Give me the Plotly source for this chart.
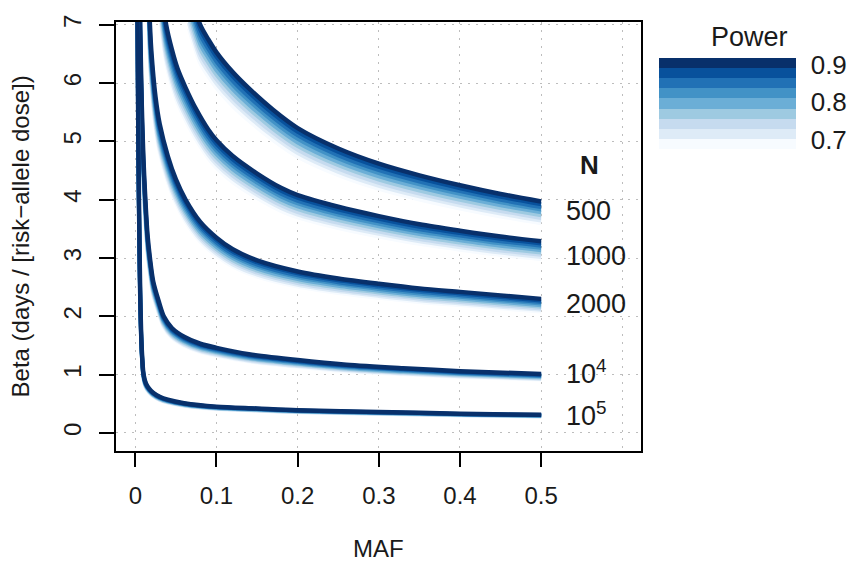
import plotly.graph_objects as go

# ---------------- data ----------------
# darkest curve (highest power) for each sample size N: MAF -> Beta
maf_500 = [0.066, 0.080, 0.09, 0.10, 0.12, 0.14, 0.17, 0.20, 0.25, 0.30, 0.35, 0.40, 0.45, 0.50]
beta_500 = [7.66, 7.00, 6.75, 6.53, 6.19, 5.91, 5.54, 5.23, 4.88, 4.62, 4.42, 4.25, 4.10, 3.97]

maf_1000 = [0.032, 0.038, 0.045, 0.052, 0.062, 0.075, 0.09, 0.10, 0.12, 0.15, 0.18, 0.20, 0.25, 0.30, 0.35, 0.40, 0.45, 0.50]
beta_1000 = [7.66, 7.00, 6.58, 6.25, 5.92, 5.55, 5.20, 5.02, 4.75, 4.45, 4.20, 4.08, 3.88, 3.72, 3.58, 3.47, 3.37, 3.29]

maf_2000 = [0.0166, 0.018, 0.02, 0.025, 0.03, 0.04, 0.05, 0.062, 0.08, 0.10, 0.12, 0.15, 0.20, 0.25, 0.30, 0.35, 0.40, 0.45, 0.50]
beta_2000 = [7.66, 7.00, 6.50, 5.75, 5.30, 4.75, 4.35, 4.00, 3.62, 3.35, 3.15, 2.96, 2.77, 2.65, 2.56, 2.48, 2.42, 2.36, 2.30]

maf_1e4 = [0.0055, 0.006, 0.008, 0.010, 0.012, 0.015, 0.018, 0.022, 0.029, 0.035, 0.045, 0.06, 0.08, 0.10, 0.14, 0.20, 0.26, 0.33, 0.40, 0.50]
beta_1e4 = [7.66, 7.00, 5.60, 4.70, 4.10, 3.40, 3.00, 2.60, 2.25, 2.00, 1.80, 1.65, 1.53, 1.46, 1.35, 1.25, 1.17, 1.11, 1.06, 1.01]

maf_1e5 = [0.0023, 0.0028, 0.0035, 0.0041, 0.005, 0.006, 0.007, 0.008, 0.010, 0.013, 0.017, 0.022, 0.03, 0.04, 0.06, 0.10, 0.15, 0.20, 0.30, 0.40, 0.50]
beta_1e5 = [7.66, 7.00, 5.50, 4.50, 3.40, 2.40, 1.80, 1.42, 1.02, 0.85, 0.76, 0.69, 0.62, 0.57, 0.51, 0.45, 0.42, 0.39, 0.36, 0.33, 0.31]

# relative height of each power curve vs the highest-power curve (lightest -> darkest)
power_scale = [0.906, 0.918, 0.929, 0.941, 0.953, 0.965, 0.976, 0.988, 1.000]

n_labels = ["500", "1000", "2000", "10<sup>4</sup>", "10<sup>5</sup>"]
x_ticks = [0, 0.1, 0.2, 0.3, 0.4, 0.5]
x_ticktext = ["0", "0.1", "0.2", "0.3", "0.4", "0.5"]
y_ticks = [0, 1, 2, 3, 4, 5, 6, 7]
legend_ticks = [0.7, 0.8, 0.9]

# ---------------- styles / layout ----------------
blues = ["#F7FBFF", "#DEEBF7", "#C6DBEF", "#9ECAE1", "#6BAED6",
         "#4292C6", "#2171B5", "#08519C", "#08306B"]
line_widths = [4, 4, 4, 4, 4, 4, 4, 4, 4.5]
FONT = "Liberation Sans, Arial, Helvetica, sans-serif"
TXT = "#1a1a1a"
GRID = "#bdbdbd"
GRID_DASH = "2px,6px"
label_y = [3.81, 3.03, 2.22, 1.05, 0.33]

curves = [(maf_500, beta_500), (maf_1000, beta_1000), (maf_2000, beta_2000),
          (maf_1e4, beta_1e4), (maf_1e5, beta_1e5)]

fig = go.Figure()
for maf, beta in curves:
    for k, s in enumerate(power_scale):
        fig.add_trace(go.Scatter(
            x=maf, y=[b * s for b in beta], mode="lines",
            line=dict(color=blues[k], width=line_widths[k], shape="spline", smoothing=0.8),
            showlegend=False, hoverinfo="skip"))

# colour key (Power)
cmin, cmax = 0.674, 0.919
cs = []
for k, c in enumerate(blues):
    cs.append([k / 9, c])
    cs.append([(k + 1) / 9, c])
fig.add_trace(go.Scatter(
    x=[None], y=[None], mode="markers", showlegend=False, hoverinfo="skip",
    marker=dict(color=[0.8], colorscale=cs, cmin=cmin, cmax=cmax, showscale=True,
                colorbar=dict(xref="container", yref="container",
                              x=659 / 848, xanchor="left",
                              y=1 - 76 / 561, yanchor="top",
                              len=91, lenmode="pixels",
                              thickness=137, thicknessmode="pixels",
                              outlinewidth=0, xpad=0, ypad=0,
                              tickvals=legend_ticks,
                              ticktext=[str(v) for v in legend_ticks],
                              ticks="outside", ticklen=10, tickcolor="rgba(0,0,0,0)",
                              tickfont=dict(size=26, color=TXT, family=FONT)))))

annotations = []
annotations.append(dict(x=0.559, y=4.6, xref="x", yref="y", text="<b>N</b>",
                        showarrow=False, xanchor="center", yanchor="middle",
                        font=dict(size=26, color=TXT, family=FONT)))
for t, yv in zip(n_labels, label_y):
    annotations.append(dict(x=0.528, y=yv, xref="x", yref="y", text=t,
                            showarrow=False, xanchor="left", yanchor="middle",
                            font=dict(size=27, color=TXT, family=FONT)))
annotations.append(dict(x=0.5, y=-0.228, xref="paper", yref="paper", text="MAF",
                        showarrow=False, xanchor="center", yanchor="middle",
                        font=dict(size=24, color=TXT, family=FONT)))
annotations.append(dict(x=-0.181, y=0.5, xref="paper", yref="paper",
                        text="Beta (days / [risk\u2212allele dose])", textangle=-90,
                        showarrow=False, xanchor="center", yanchor="middle",
                        font=dict(size=24, color=TXT, family=FONT)))
annotations.append(dict(x=1.2076, y=0.965, xref="paper", yref="paper", text="Power",
                        showarrow=False, xanchor="center", yanchor="middle",
                        font=dict(size=27, color=TXT, family=FONT)))

axis_common = dict(showline=True, linecolor="black", linewidth=1.5, mirror=True,
                   ticks="outside", tickcolor="black", tickwidth=1.5,
                   showgrid=True, gridcolor=GRID, griddash=GRID_DASH, gridwidth=1.2,
                   zeroline=False, automargin=False,
                   tickfont=dict(size=24, color=TXT, family=FONT))

fig.update_layout(
    width=848, height=561,
    margin=dict(l=116, r=207, t=22, b=110, autoexpand=False),
    paper_bgcolor="white", plot_bgcolor="white",
    font=dict(family=FONT, color=TXT),
    xaxis=dict(range=[-0.0238, 0.623], tickvals=x_ticks, ticktext=x_ticktext,
               ticklen=14, ticklabelstandoff=8,
               minor=dict(tickvals=[0.6], showgrid=True, gridcolor=GRID,
                          griddash=GRID_DASH, gridwidth=1.2, ticks=""),
               **axis_common),
    yaxis=dict(range=[-0.31, 7.05], tickvals=y_ticks, tickangle=-90,
               ticklen=15, ticklabelstandoff=9, **axis_common),
    annotations=annotations,
)

fig.write_html("out.html", config={"displayModeBar": False},
               post_script="document.body.style.margin='0px';document.body.style.overflow='hidden';")
